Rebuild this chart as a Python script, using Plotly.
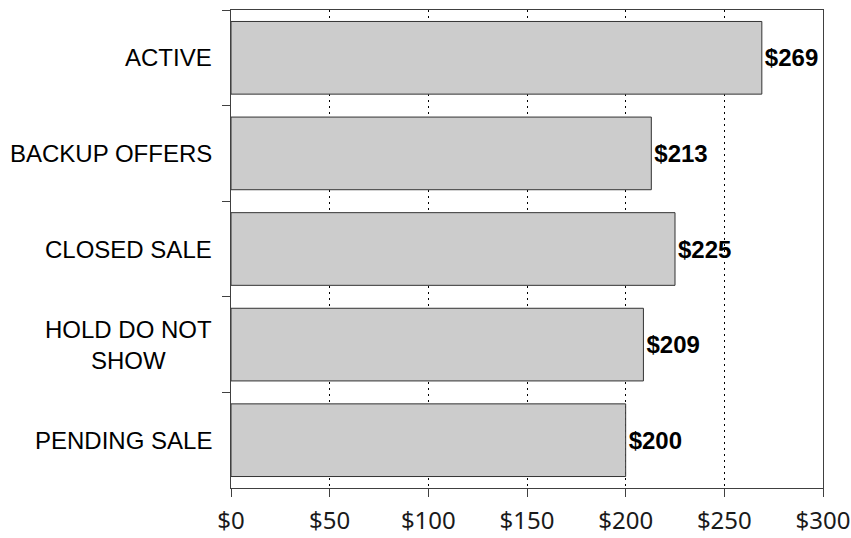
import plotly.graph_objects as go

# Average price by listing status
statuses = ["ACTIVE", "BACKUP OFFERS", "CLOSED SALE", "HOLD DO NOT<br>SHOW", "PENDING SALE"]
prices = [269, 213, 225, 209, 200]
x_ticks = [0, 50, 100, 150, 200, 250, 300]
x_tick_labels = ["$" + str(v) for v in x_ticks]
value_labels = ["$" + str(v) for v in prices]

fig = go.Figure()
fig.add_trace(go.Bar(
    y=statuses,
    x=prices,
    orientation="h",
    marker=dict(color="#cccccc", line=dict(color="#333333", width=1)),
    text=["<b>" + t + "</b>" for t in value_labels],
    textposition="outside",
    textfont=dict(family="Liberation Sans, Arial", size=24, color="#000000"),
    cliponaxis=False,
    hoverinfo="skip",
))

# Category labels as annotations so wrapped lines stay centred
for s in statuses:
    fig.add_annotation(
        x=0, xref="paper", xanchor="right", xshift=-17,
        y=s, yref="y", yanchor="middle",
        text=s, showarrow=False, align="center",
        font=dict(family="Liberation Sans, Arial", size=24, color="#000000"),
    )

fig.update_layout(
    width=851, height=538,
    margin=dict(l=231, r=28, t=10, b=50),
    paper_bgcolor="white", plot_bgcolor="white",
    bargap=0.24,
    showlegend=False,
)
fig.update_xaxes(
    range=[0, 300], automargin=False,
    tickvals=x_ticks, ticktext=x_tick_labels, ticklabeloverflow="allow",
    ticklabelstandoff=3,
    ticks="outside", ticklen=8, tickcolor="#404040",
    showline=True, linecolor="#404040", linewidth=1, mirror=True,
    showgrid=True, gridcolor="#000000", gridwidth=1, griddash="2px,4px",
    zeroline=False,
    tickfont=dict(family="Noto Sans", size=24, color="#1a1a1a"),
)
fig.update_yaxes(
    categoryorder="array", categoryarray=statuses, autorange="reversed",
    automargin=False,
    tickson="boundaries", ticks="outside", ticklen=8, tickcolor="#404040",
    showticklabels=False,
    showline=True, linecolor="#404040", linewidth=1, mirror=True,
    showgrid=False, zeroline=False,
)

fig.write_html("out.html")
